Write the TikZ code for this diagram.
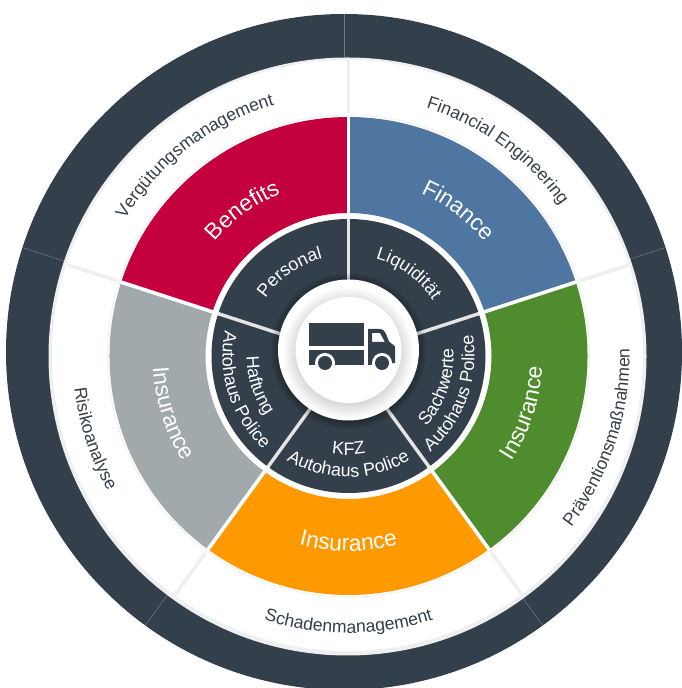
\documentclass[tikz,border=0pt]{standalone}
\usepackage{fontspec}
\setmainfont{Liberation Sans}
\usetikzlibrary{decorations.text}
\definecolor{ink}{HTML}{333F4A}
\definecolor{seam}{HTML}{6F7A83}
\definecolor{rim}{HTML}{EFEFEF}
\definecolor{benefit}{HTML}{C4003F}
\definecolor{finance}{HTML}{4F76A0}
\definecolor{greenins}{HTML}{4F8C2D}
\definecolor{orangeins}{HTML}{FF9900}
\definecolor{greyins}{HTML}{A2A9AC}
\tikzset{
  seamline/.style={draw=seam,line width=0.5pt},
  rimspoke/.style={draw=rim,line width=3.6pt},
  whitespoke/.style={draw=white,line width=3.6pt},
  innerspoke/.style={draw=white!90!black,line width=3.4pt}
}
% radius, start angle, end angle, size, colour, text
\newcommand\arclabel[6]{%
  \path[decorate,decoration={text along path,text align=center,
    text={|\fontsize{#4}{#4}\selectfont\color{#5}|#6}}]
    (#2:#1) arc[start angle=#2,end angle=#3,radius=#1pt];}
% start angle, end angle, colour
\newcommand\sectorfill[3]{%
  \fill[#3] (#1:143pt) arc[start angle=#1,end angle=#2,radius=143pt]
    -- (#2:239pt) arc[start angle=#2,end angle=#1,radius=239pt] -- cycle;}
\begin{document}
\begin{tikzpicture}[x=1pt,y=1pt]
\path[use as bounding box,fill=white] (0,0) rectangle (682,688);
\begin{scope}
\clip (0,0) rectangle (682,688);
% outer ring, centre (344,352) in image pixels
\begin{scope}[shift={(344,336)}]
  \fill[ink] (0,0) circle[radius=338pt];
  \foreach \a in {90,18,-54,-126,162}
    \draw[seamline] (\a:294) -- (\a:338);
\end{scope}
\end{scope}
\fill[rim] (347.5,331.5) circle[radius=299pt];
\fill[white] (347.5,332.5) circle[radius=295.5pt];
\begin{scope}[shift={(348.5,332)}]
  \foreach \a in {90,18,-54,-126,162}
    \draw[rimspoke] (\a:243) -- (\a:296);
  \draw[rim,line width=0.8pt] (0,0) circle[radius=241pt];
  \sectorfill{90}{18}{finance}
  \sectorfill{162}{90}{benefit}
  \sectorfill{234}{162}{greyins}
  \sectorfill{306}{234}{orangeins}
  \sectorfill{378}{306}{greenins}
  \fill[white] (0,0) circle[radius=141pt];
  \fill[ink] (0,0) circle[radius=137pt];
  \foreach \a in {90,18,-54,-126,162}
    \draw[whitespoke] (\a:136) -- (\a:240);
  \foreach \a in {90,18,-54,-126,162}
    \draw[innerspoke] (\a:60) -- (\a:137);
  % outer labels
  \arclabel{262}{177.5}{77.5}{17.6}{ink}{Vergütungsmanagement}
  \arclabel{260}{104}{4}{17.6}{ink}{Financial Engineering}
  \arclabel{281}{-68}{32}{17.6}{ink}{Präventionsmaßnahmen}
  \arclabel{277}{220}{320}{17.6}{ink}{Schadenmanagement}
  \arclabel{276}{148}{248}{17.6}{ink}{Risikoanalyse}
  % sector labels
  \arclabel{176}{176}{76}{22.8}{white}{Benefits}
  \arclabel{178}{103}{3}{22.8}{white}{Finance}
  \arclabel{194}{-68}{32}{22.8}{white}{Insurance}
  \arclabel{195}{220}{320}{22.8}{white}{Insurance}
  \arclabel{196}{148}{248}{22.8}{white}{Insurance}
  % inner ring labels
  \arclabel{101}{175}{75}{18}{white}{Personal}
  \arclabel{101}{104}{4}{18}{white}{Liquidität}
  \arclabel{105}{-69}{31}{18}{white}{Sachwerte}
  \arclabel{126}{-70}{30}{18}{white}{Autohaus Police}
  \arclabel{99}{220}{320}{18}{white}{KFZ}
  \arclabel{121}{220}{320}{18}{white}{Autohaus Police}
  \arclabel{102}{148}{248}{18}{white}{Haftung}
  \arclabel{126}{148}{248}{18}{white}{Autohaus Police}
\end{scope}
% centre disc, centre (348.5,350) in image pixels
\begin{scope}[shift={(348.5,338)}]
  \foreach \r in {71,72,...,78}
    \fill[black,opacity=0.035] (0,-1) circle[radius=\r pt];
  \fill[white] (0,0) circle[radius=70.5pt];
  \begin{scope}
    \clip (0,0) circle[radius=70.5pt];
    \foreach \r in {53,54.5,...,66}
      \fill[black,opacity=0.014] (0,-3) circle[radius=\r pt];
  \end{scope}
  \fill[white] (0,0) circle[radius=53pt];
\end{scope}
% truck (image pixels, y flipped)
\fill[ink] (309,365) rectangle (364,341.5);
\fill[ink] (309,337.5) rectangle (364,323);
\fill[ink,even odd rule] (368,359) -- (379,359)
  .. controls (383,359) and (385,357) .. (386,354)
  -- (389,346.5) -- (395,341.5) -- (395,325) -- (368,323) -- cycle
  (372,355) -- (380,355) -- (385,346) -- (372,346) -- cycle;
\fill[white] (325,325) circle[radius=10pt];
\fill[white] (382,325) circle[radius=10pt];
\fill[ink] (325,325) circle[radius=7pt];
\fill[ink] (382,325) circle[radius=7pt];
\end{tikzpicture}
\end{document}
